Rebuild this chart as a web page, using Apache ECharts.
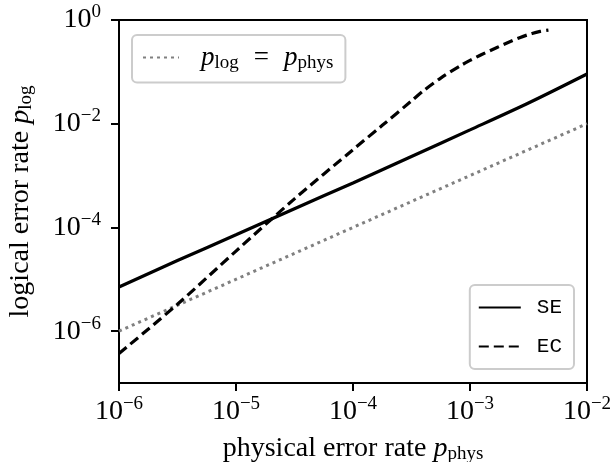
<!DOCTYPE html>
<html>
<head>
<meta charset="utf-8">
<script src="https://cdn.jsdelivr.net/npm/echarts@6/dist/echarts.min.js"></script>
<style>
  html, body { margin: 0; padding: 0; background: #fff; }
  #chart { width: 614px; height: 462px; }
</style>
</head>
<body>
<div id="chart"></div>
<script>
// Datos
const identX = [1e-6, 1e-2];
const identY = [1e-6, 1e-2];

const seX = [1e-6, 3.16e-6, 1e-5, 3.16e-5, 1e-4, 3.16e-4, 1e-3, 3.16e-3, 1e-2];
const seY = [7.1e-6, 2.3e-5, 7.2e-5, 2.3e-4, 7.2e-4, 2.34e-3, 7.6e-3, 2.51e-2, 9.1e-2];

const ecX = [1e-6, 3.16e-6, 1e-5, 3.16e-5, 1e-4, 1.78e-4, 3.16e-4, 3.98e-4, 5.62e-4,
             8.32e-4, 1e-3, 1.26e-3, 1.70e-3, 2.14e-3, 2.69e-3, 3.39e-3, 3.98e-3, 4.68e-3];
const ecY = [3.7e-7, 3.3e-6, 3.5e-5, 3.55e-4, 3.16e-3, 9.3e-3, 0.0275, 0.0427, 0.0759,
             0.132, 0.166, 0.216, 0.295, 0.372, 0.462, 0.55, 0.603, 0.638];

// Ticks y etiquetas (exponentes)
const xTicks = [1e-6, 1e-5, 1e-4, 1e-3, 1e-2];
const xTickExp = ['−6', '−5', '−4', '−3', '−2'];
const yTicks = [1e-6, 1e-4, 1e-2, 1];
const yTickExp = ['−6', '−4', '−2', '0'];

const serif = 'Liberation Serif';
const mono = 'Liberation Mono';

function pares(xs, ys) {
    return xs.map((x, i) => [x, ys[i]]);
}

function etiqueta(ticks, exps) {
    return function (v) {
        let idx = 0, best = Infinity;
        ticks.forEach((t, i) => {
            const d = Math.abs(Math.log10(t) - Math.log10(v));
            if (d < best) { best = d; idx = i; }
        });
        return '{b|10}{s|' + exps[idx] + '}';
    };
}

const tickRich = {
    b: { fontFamily: serif, fontSize: 28, color: '#000' },
    s: { fontFamily: serif, fontSize: 19, color: '#000', padding: [0, 0, 15, 0] }
};

const nameRich = {
    n: { fontFamily: serif, fontSize: 28, color: '#000' },
    i: { fontFamily: serif, fontSize: 28, fontStyle: 'italic', color: '#000' },
    u: { fontFamily: serif, fontSize: 19, color: '#000', padding: [12, 0, 0, 0] }
};

const option = {
    animation: false,
    backgroundColor: '#fff',
    grid: {
        left: 119, right: 27, top: 20, bottom: 79,
        outerBoundsMode: 'none',
        containLabel: false,
        show: true, borderColor: '#000', borderWidth: 2
    },
    xAxis: {
        type: 'log',
        logBase: 10,
        min: 1e-6,
        max: 1e-2,
        axisLine: { show: true, lineStyle: { color: '#000', width: 2 } },
        axisTick: { customValues: xTicks, length: 8, lineStyle: { color: '#000', width: 2 } },
        axisLabel: {
            customValues: xTicks,
            formatter: etiqueta(xTicks, xTickExp),
            rich: tickRich,
            margin: 12
        },
        splitLine: { show: false },
        minorTick: { show: false },
        name: '{n|physical error rate }{i|p}{u|phys}',
        nameLocation: 'middle',
        nameGap: 50,
        nameTextStyle: { rich: nameRich }
    },
    yAxis: {
        type: 'log',
        logBase: 10,
        min: 1e-7,
        max: 1,
        axisLine: { show: true, lineStyle: { color: '#000', width: 2 } },
        axisTick: { customValues: yTicks, length: 8, lineStyle: { color: '#000', width: 2 } },
        axisLabel: {
            customValues: yTicks,
            formatter: etiqueta(yTicks, yTickExp),
            rich: tickRich,
            margin: 18
        },
        splitLine: { show: false },
        minorTick: { show: false },
        name: '{n|logical error rate }{i|p}{u|log}',
        nameLocation: 'middle',
        nameRotate: 90,
        nameGap: 83,
        nameTextStyle: { rich: nameRich }
    },
    legend: [
        {
            data: ['ident'],
            left: 132,
            top: 35,
            itemWidth: 36,
            itemHeight: 14,
            padding: [9, 12, 10, 10],
            borderColor: '#cccccc',
            borderWidth: 2,
            borderRadius: 5,
            backgroundColor: '#fff',
            itemStyle: { opacity: 0 },
            formatter: function () {
                return '{i|p}{u|log}{e|=}{i|p}{u|phys}';
            },
            textStyle: {
                padding: [0, 0, 0, 17],
                rich: {
                    i: { fontFamily: serif, fontSize: 27, fontStyle: 'italic', color: '#000' },
                    e: { fontFamily: serif, fontSize: 27, color: '#000', padding: [0, 15, 0, 15] },
                    u: { fontFamily: serif, fontSize: 19, color: '#000', padding: [11, 0, 0, 0] }
                }
            }
        },
        {
            data: ['SE', 'EC'],
            right: 40,
            bottom: 93,
            orient: 'vertical',
            itemWidth: 42,
            itemHeight: 14,
            itemGap: 18,
            padding: [12, 12, 12, 8],
            borderColor: '#cccccc',
            borderWidth: 2,
            borderRadius: 5,
            backgroundColor: '#fff',
            itemStyle: { opacity: 0 },
            textStyle: {
                fontFamily: mono,
                fontSize: 21,
                color: '#000',
                padding: [0, 0, 0, 11]
            }
        }
    ],
    series: [
        {
            name: 'ident',
            type: 'line',
            data: pares(identX, identY),
            symbol: 'none',
            lineStyle: { color: '#808080', width: 3, type: [3, 4] },
            itemStyle: { color: '#808080' },
            z: 2
        },
        {
            name: 'SE',
            type: 'line',
            data: pares(seX, seY),
            symbol: 'none',
            smooth: 0.3,
            lineStyle: { color: '#000', width: 3.2 },
            itemStyle: { color: '#000' },
            z: 3
        },
        {
            name: 'EC',
            type: 'line',
            data: pares(ecX, ecY),
            symbol: 'none',
            smooth: 0.3,
            lineStyle: { color: '#000', width: 3.2, type: [10, 5] },
            itemStyle: { color: '#000' },
            z: 3
        }
    ]
};

const chart = echarts.init(document.getElementById('chart'));
chart.setOption(option);
</script>
</body>
</html>
